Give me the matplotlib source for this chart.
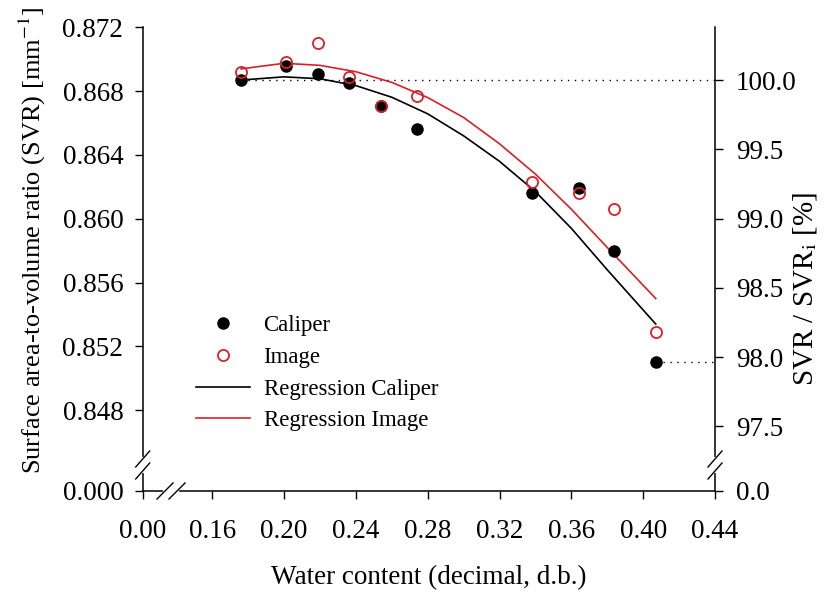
import matplotlib.pyplot as plt
import numpy as np
from matplotlib.lines import Line2D

plt.rcParams["font.family"] = ["Liberation Serif", "DejaVu Serif"]
plt.rcParams["mathtext.fontset"] = "stix"

# values
water = [0.176, 0.201, 0.219, 0.236, 0.254, 0.274, 0.338, 0.364, 0.384, 0.407]
svr_caliper = [0.8687, 0.8696, 0.8691, 0.8685, 0.8671, 0.8656, 0.8616, 0.8619, 0.8580, 0.8510]
svr_image = [0.8692, 0.8698, 0.8710, 0.8689, 0.8671, 0.8677, 0.8623, 0.8616, 0.8606, 0.8529]

# regression curves as drawn in the reference
reg_x = [0.176, 0.20, 0.22, 0.24, 0.26, 0.28, 0.30, 0.32, 0.34, 0.36, 0.38, 0.407]
reg_cal_y = [0.8687, 0.8689, 0.86878, 0.86835, 0.86762, 0.86658, 0.8652, 0.8636, 0.8617,
             0.8594, 0.8568, 0.8534]
reg_img_y = [0.8694, 0.86975, 0.86962, 0.86922, 0.86855, 0.8676, 0.86635, 0.8647, 0.8628,
             0.8606, 0.8582, 0.8550]

x_ticks = [0.00, 0.16, 0.20, 0.24, 0.28, 0.32, 0.36, 0.40, 0.44]
y_ticks = [0.000, 0.848, 0.852, 0.856, 0.860, 0.864, 0.868, 0.872]
pct_ticks = [0.0, 97.5, 98.0, 98.5, 99.0, 99.5, 100.0]

SVR_REF = svr_caliper[0]   # 100 % on the right axis
RED = "#d92027"

W, H = 829, 596
X_BREAK, X_ZERO = 0.14, 0.12123     # where 0.00 sits on the compressed x axis
Y_BREAK, Y_ZERO = 0.845, 0.842934   # where 0.000 sits on the compressed y axis


def broken(brk, zero):
    k = (brk - zero) / brk

    def fwd(v):
        v = np.asarray(v, dtype=float)
        return np.where(v >= brk, v, brk - (brk - v) * k)

    def inv(v):
        v = np.asarray(v, dtype=float)
        return np.where(v >= brk, v, brk - (brk - v) / k)

    return fwd, inv


def px(x, y):
    return x / W, 1 - y / H


fig = plt.figure(figsize=(W / 100, H / 100), dpi=100)
left, right, top, bottom = 142.7, 715.0, 27.4, 491.0
ax = fig.add_axes([left / W, 1 - bottom / H, (right - left) / W, (bottom - top) / H])
ax.set_xscale("function", functions=broken(X_BREAK, X_ZERO))
ax.set_yscale("function", functions=broken(Y_BREAK, Y_ZERO))
ax.set_xlim(0, 0.44)
ax.set_ylim(0, 0.872)

h_cal, = ax.plot(water, svr_caliper, "o", color="black", ms=8, zorder=4, label="Caliper")
h_img, = ax.plot(water, svr_image, "o", mfc="none", mec=RED, mew=1.3, ms=8, zorder=5, label="Image")
h_rc, = ax.plot(reg_x, reg_cal_y, color="black", lw=1.2, zorder=3, label="Regression Caliper")
h_ri, = ax.plot(reg_x, reg_img_y, color=RED, lw=1.2, zorder=3, label="Regression Image")

# dotted guides to the right axis
ax.plot([water[0], 0.44], [svr_caliper[0]] * 2, ls=(0, (1, 4)), color="black", lw=1, zorder=2)
ax.plot([water[-1], 0.44], [svr_caliper[-1]] * 2, ls=(0, (1, 4)), color="black", lw=1, zorder=2)

ax.set_xticks(x_ticks)
ax.set_xticklabels([f"{v:.2f}" for v in x_ticks])
ax.set_yticks(y_ticks)
ax.set_yticklabels([f"{v:.3f}" for v in y_ticks])
ax.minorticks_off()

ax2 = ax.twinx()
ax2.set_yscale("function", functions=broken(Y_BREAK, Y_ZERO))
ax2.set_ylim(0, 0.872)
ax2.set_yticks([SVR_REF * p / 100 for p in pct_ticks])
ax2.set_yticklabels([f"{p:.1f}" for p in pct_ticks])
ax2.minorticks_off()

for a in (ax, ax2):
    a.spines["top"].set_visible(False)
    for s in a.spines.values():
        s.set_linewidth(1.1)
    a.tick_params(direction="out", length=6, width=1.0, labelsize=19.5)
ax.spines["right"].set_visible(False)
ax2.spines["left"].set_visible(False)
ax2.spines["bottom"].set_visible(False)
ax.tick_params(axis="x", pad=14)
ax.tick_params(axis="y", pad=8)
ax2.tick_params(axis="y", pad=9)

ax.set_xlabel("Water content (decimal, d.b.)", fontsize=19.5)
ax.xaxis.set_label_coords(0.5, -0.16)
ax.set_ylabel("Surface area-to-volume ratio (SVR) [mm$^{-1}$]", fontsize=19)
ax.yaxis.set_label_coords(-0.165, 0.541)
ax2.set_ylabel("SVR / SVR$_{\\mathrm{i}}$ [%]", fontsize=21)
ax2.yaxis.set_label_coords(1.132, 0.435)

ax.legend(handles=[h_cal, h_img, h_rc, h_ri], loc="upper left",
          bbox_to_anchor=px(196, 315), bbox_transform=fig.transFigure,
          frameon=False, fontsize=16.5, handlelength=2.35, handletextpad=0.6,
          labelspacing=0.47, borderpad=0, borderaxespad=0)


# axis break marks: white gap on the spine plus two slashes
def vbreak(x, y1, y2):
    fig.add_artist(Line2D(*zip(px(x, y1), px(x, y2)), color="white", lw=3,
                          transform=fig.transFigure, zorder=10))
    for yc in (y1, y2):
        fig.add_artist(Line2D(*zip(px(x - 7, yc + 8), px(x + 7, yc - 8)), color="black",
                              lw=1.0, transform=fig.transFigure, zorder=11))


def hbreak(y, x1, x2):
    fig.add_artist(Line2D(*zip(px(x1, y), px(x2, y)), color="white", lw=3,
                          transform=fig.transFigure, zorder=10))
    for xc in (x1, x2):
        fig.add_artist(Line2D(*zip(px(xc - 8, y + 8), px(xc + 8, y - 8)), color="black",
                              lw=1.0, transform=fig.transFigure, zorder=11))


vbreak(left, 459, 471)
vbreak(right, 459, 471)
hbreak(bottom, 165, 177)

fig.savefig("out.png", dpi=100)
